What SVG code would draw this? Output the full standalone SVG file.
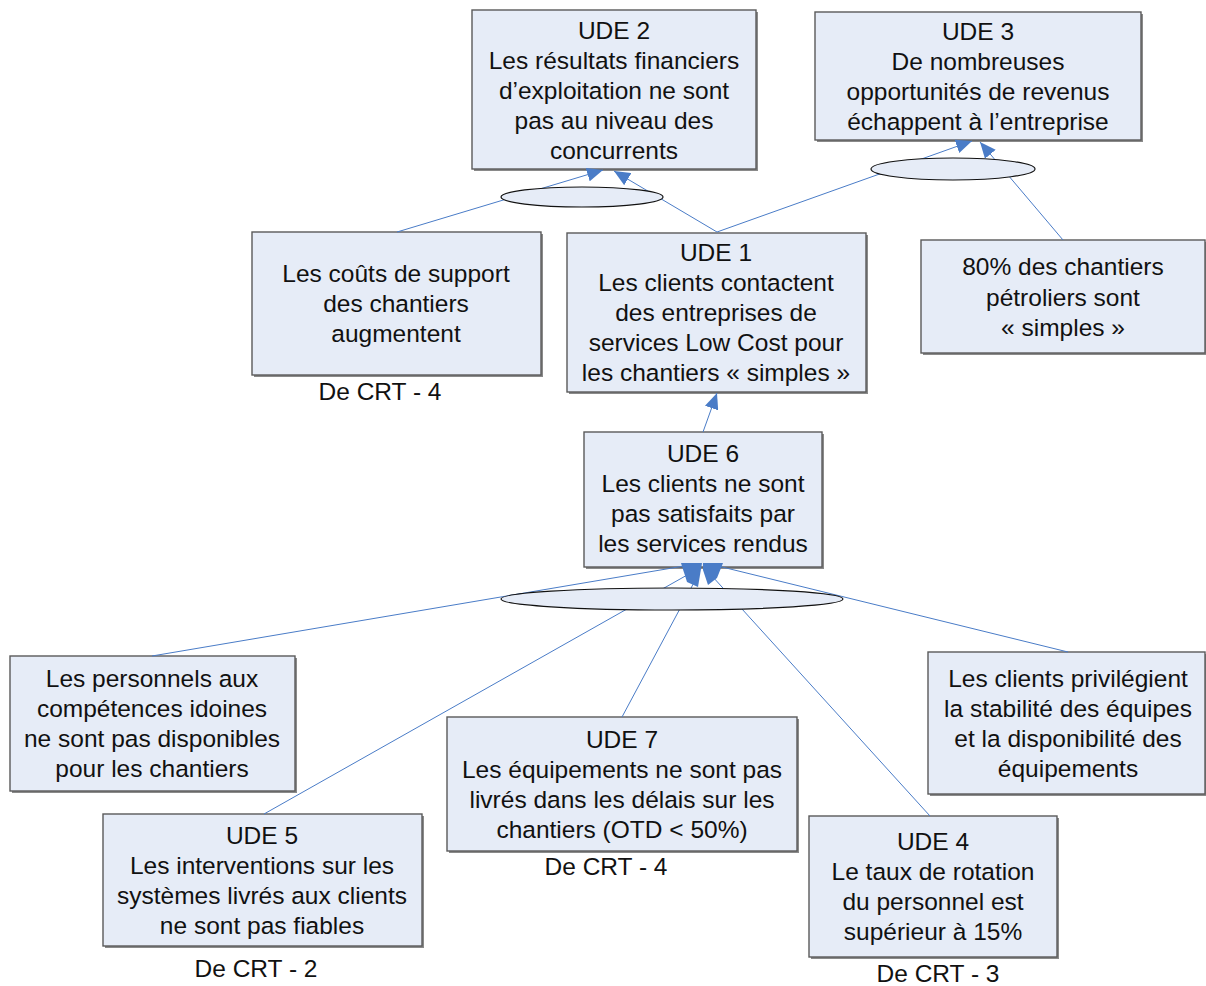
<svg xmlns="http://www.w3.org/2000/svg" width="1206" height="986" viewBox="0 0 1206 986">
<style>
.box{fill:#e6ecf7;stroke:#5a5a5a;stroke-width:1.4}
.sh{fill:#8a8a8a}
.t{font-family:"Liberation Sans",Arial,sans-serif;font-size:24.5px;fill:#111;text-anchor:middle}
.c{stroke:#4a7cc7;stroke-width:1;fill:none}
.and{fill:#e6ecf7;stroke:#111;stroke-width:1.2}
.wedge{fill:#4a7cc7}
</style>
<defs>
<marker id="ah" viewBox="0 0 16 14" refX="16" refY="7" markerWidth="16" markerHeight="14" markerUnits="userSpaceOnUse" orient="auto">
<path d="M0,0 L16,7 L0,14 z" fill="#4a7cc7"/>
</marker>
</defs>
<rect width="1206" height="986" fill="#fff"/>

<g id="ude2">
<rect class="sh" x="474" y="12" width="284" height="159"/>
<rect class="box" x="472" y="10" width="284" height="159"/>
<text class="t" x="614" y="39">UDE 2</text>
<text class="t" x="614" y="69">Les résultats financiers</text>
<text class="t" x="614" y="99">d’exploitation ne sont</text>
<text class="t" x="614" y="129">pas au niveau des</text>
<text class="t" x="614" y="159">concurrents</text>
</g>
<g id="ude3">
<rect class="sh" x="817" y="14" width="326" height="128"/>
<rect class="box" x="815" y="12" width="326" height="128"/>
<text class="t" x="978" y="40">UDE 3</text>
<text class="t" x="978" y="70">De nombreuses</text>
<text class="t" x="978" y="100">opportunités de revenus</text>
<text class="t" x="978" y="130">échappent à l’entreprise</text>
</g>
<g id="couts">
<rect class="sh" x="254" y="234" width="289" height="143"/>
<rect class="box" x="252" y="232" width="289" height="143"/>
<text class="t" x="396" y="282">Les coûts de support</text>
<text class="t" x="396" y="312">des chantiers</text>
<text class="t" x="396" y="342">augmentent</text>
<text class="t" x="380" y="400">De CRT - 4</text>
</g>
<g id="ude1">
<rect class="sh" x="569" y="235" width="299" height="159"/>
<rect class="box" x="567" y="233" width="299" height="159"/>
<text class="t" x="716" y="261">UDE 1</text>
<text class="t" x="716" y="291">Les clients contactent</text>
<text class="t" x="716" y="321">des entreprises de</text>
<text class="t" x="716" y="351">services Low Cost pour</text>
<text class="t" x="716" y="381">les chantiers « simples »</text>
</g>
<g id="pct80">
<rect class="sh" x="923" y="242" width="284" height="113"/>
<rect class="box" x="921" y="240" width="284" height="113"/>
<text class="t" x="1063" y="275">80% des chantiers</text>
<text class="t" x="1063" y="306">pétroliers sont</text>
<text class="t" x="1063" y="336">« simples »</text>
</g>
<g id="ude6">
<rect class="sh" x="586" y="434" width="238" height="135"/>
<rect class="box" x="584" y="432" width="238" height="135"/>
<text class="t" x="703" y="462">UDE 6</text>
<text class="t" x="703" y="492">Les clients ne sont</text>
<text class="t" x="703" y="522">pas satisfaits par</text>
<text class="t" x="703" y="552">les services rendus</text>
</g>
<g id="personnels">
<rect class="sh" x="12" y="658" width="285" height="135"/>
<rect class="box" x="10" y="656" width="285" height="135"/>
<text class="t" x="152" y="687">Les personnels aux</text>
<text class="t" x="152" y="717">compétences idoines</text>
<text class="t" x="152" y="747">ne sont pas disponibles</text>
<text class="t" x="152" y="777">pour les chantiers</text>
</g>
<g id="ude7">
<rect class="sh" x="449" y="719" width="350" height="134"/>
<rect class="box" x="447" y="717" width="350" height="134"/>
<text class="t" x="622" y="748">UDE 7</text>
<text class="t" x="622" y="778">Les équipements ne sont pas</text>
<text class="t" x="622" y="808">livrés dans les délais sur les</text>
<text class="t" x="622" y="838">chantiers (OTD &lt; 50%)</text>
<text class="t" x="606" y="875">De CRT - 4</text>
</g>
<g id="privilegient">
<rect class="sh" x="930" y="654" width="277" height="142"/>
<rect class="box" x="928" y="652" width="277" height="142"/>
<text class="t" x="1068" y="687">Les clients privilégient</text>
<text class="t" x="1068" y="717">la stabilité des équipes</text>
<text class="t" x="1068" y="747">et la disponibilité des</text>
<text class="t" x="1068" y="777">équipements</text>
</g>
<g id="ude5">
<rect class="sh" x="105" y="816" width="319" height="132"/>
<rect class="box" x="103" y="814" width="319" height="132"/>
<text class="t" x="262" y="844">UDE 5</text>
<text class="t" x="262" y="874">Les interventions sur les</text>
<text class="t" x="262" y="904">systèmes livrés aux clients</text>
<text class="t" x="262" y="934">ne sont pas fiables</text>
<text class="t" x="256" y="977">De CRT - 2</text>
</g>
<g id="ude4">
<rect class="sh" x="811" y="818" width="248" height="141"/>
<rect class="box" x="809" y="816" width="248" height="141"/>
<text class="t" x="933" y="850">UDE 4</text>
<text class="t" x="933" y="880">Le taux de rotation</text>
<text class="t" x="933" y="910">du personnel est</text>
<text class="t" x="933" y="940">supérieur à 15%</text>
<text class="t" x="938" y="982">De CRT - 3</text>
</g>

<g id="connectors">
<line class="c" x1="397" y1="232" x2="603" y2="170" marker-end="url(#ah)"/>
<line class="c" x1="717" y1="232" x2="614" y2="171" marker-end="url(#ah)"/>
<line class="c" x1="717" y1="232" x2="972" y2="141" marker-end="url(#ah)"/>
<line class="c" x1="1063" y1="240" x2="980" y2="142" marker-end="url(#ah)"/>
<line class="c" x1="703" y1="432" x2="717" y2="393" marker-end="url(#ah)"/>
<line class="c" x1="152" y1="656" x2="684" y2="566"/>
<line class="c" x1="264" y1="814" x2="696" y2="570"/>
<line class="c" x1="622" y1="717" x2="698" y2="575"/>
<line class="c" x1="930" y1="816" x2="712" y2="576"/>
<line class="c" x1="1068" y1="652" x2="718" y2="566"/>
<polygon class="wedge" points="681,563 702,563 698,587 687,582"/>
<polygon class="wedge" points="703,563 723,563 717,578 708,585 703,570"/>
</g>

<g id="and1"><ellipse class="and" cx="582" cy="197" rx="81" ry="10"/></g>
<g id="and2"><ellipse class="and" cx="953" cy="169" rx="82" ry="11"/></g>
<g id="and3"><ellipse class="and" cx="672" cy="599" rx="171" ry="11"/></g>
</svg>
